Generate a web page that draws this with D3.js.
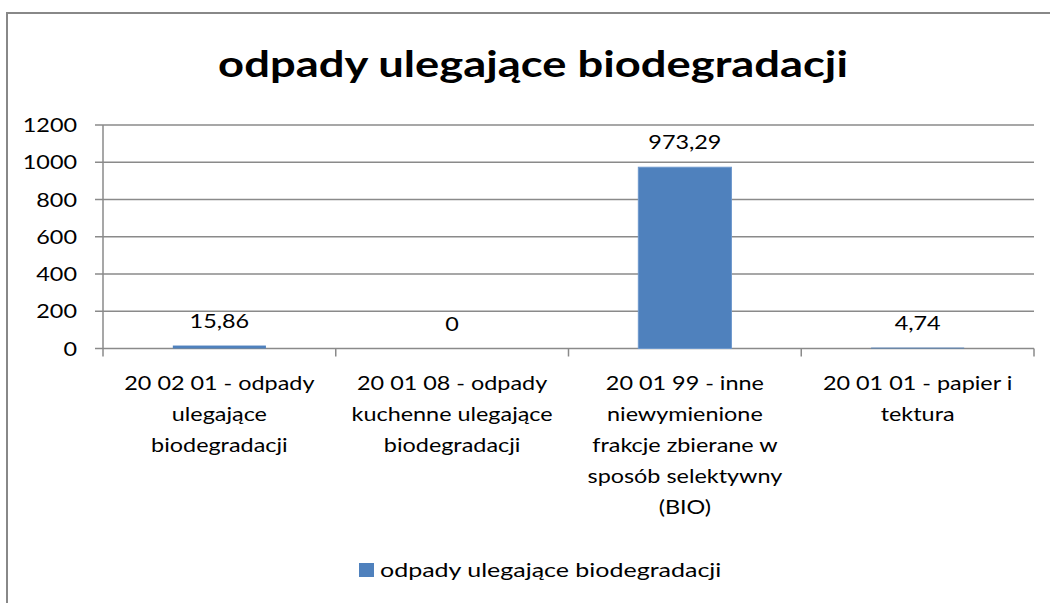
<!DOCTYPE html>
<html>
<head>
<meta charset="utf-8">
<script src="https://cdn.jsdelivr.net/npm/d3@7"></script>
<style>
  body { margin: 0; background: #fff; }
  text { font-family: Lato, 'Open Sans', sans-serif; fill: #000; }
</style>
</head>
<body>
<div id="chart"></div>
<script>
let categories = [
  '20 02 01 - odpady ulegające biodegradacji',
  '20 01 08 - odpady kuchenne ulegające biodegradacji',
  '20 01 99 - inne niewymienione frakcje zbierane w sposób selektywny (BIO)',
  '20 01 01 - papier i tektura'
]
let values = [15.86, 0, 973.29, 4.74]
let valueLabels = ['15,86', '0', '973,29', '4,74']
let yTicks = [0, 200, 400, 600, 800, 1000, 1200]
let seriesName = 'odpady ulegające biodegradacji'
let title = 'odpady ulegające biodegradacji'

let width = 1050
let height = 603
let margin = { top: 125, left: 103, right: 16, bottom: 254.5 }

// the picture is a bit wider than tall, so text is stretched sideways
let sx = 1.2

let svg = d3
  .select('#chart')
  .append('svg')
  .attr('width', width)
  .attr('height', height)

function place(sel, px, py, k) {
  return sel.attr('transform', `translate(${px},${py}) scale(${k || sx},1)`)
}

// outer chart frame
svg
  .append('rect')
  .attr('x', 7)
  .attr('y', 13)
  .attr('width', 1070)
  .attr('height', 620)
  .attr('fill', '#fff')
  .attr('stroke', '#888')
  .attr('stroke-width', 2)

place(svg.append('text'), 533, 77, 1.26)
  .attr('text-anchor', 'middle')
  .attr('font-size', 36)
  .attr('font-weight', 'bold')
  .text(title)

let x = d3
  .scaleBand()
  .domain(categories)
  .range([margin.left, width - margin.right])
  .paddingInner(0.6)
  .paddingOuter(0.3)

let xEdge = d3
  .scaleLinear()
  .domain([0, categories.length])
  .range([margin.left, width - margin.right])

let y = d3
  .scaleLinear()
  .domain([0, 1200])
  .range([height - margin.bottom, margin.top])

// gridlines
svg
  .selectAll('.grid')
  .data(yTicks)
  .enter()
  .append('line')
  .attr('class', 'grid')
  .attr('x1', margin.left - 8)
  .attr('x2', width - margin.right)
  .attr('y1', d => y(d))
  .attr('y2', d => y(d))
  .attr('stroke', '#8a8a8a')
  .attr('stroke-width', 1.5)

// y axis line
svg
  .append('line')
  .attr('x1', margin.left)
  .attr('x2', margin.left)
  .attr('y1', y(1200))
  .attr('y2', y(0))
  .attr('stroke', '#8a8a8a')
  .attr('stroke-width', 1.5)

svg
  .selectAll('.ytick')
  .data(yTicks)
  .enter()
  .append('text')
  .attr('class', 'ytick')
  .each(function(d) {
    place(d3.select(this), 77, y(d))
  })
  .attr('dy', '0.36em')
  .attr('text-anchor', 'end')
  .attr('font-size', 19.5)
  .text(d => d)

// category tick marks
svg
  .selectAll('.xtick')
  .data(d3.range(categories.length + 1))
  .enter()
  .append('line')
  .attr('class', 'xtick')
  .attr('x1', d => xEdge(d))
  .attr('x2', d => xEdge(d))
  .attr('y1', y(0))
  .attr('y2', y(0) + 8)
  .attr('stroke', '#8a8a8a')
  .attr('stroke-width', 1.5)

// bars
svg
  .selectAll('.bar')
  .data(values)
  .enter()
  .append('rect')
  .attr('class', 'bar')
  .attr('x', (d, i) => x(categories[i]))
  .attr('width', x.bandwidth())
  .attr('y', d => y(d))
  .attr('height', d => y(0) - y(d))
  .attr('fill', '#4f81bd')
  .attr('stroke', d => (d > 50 ? '#6d98cd' : 'none'))
  .attr('stroke-width', 1)

svg
  .selectAll('.vlabel')
  .data(values)
  .enter()
  .append('text')
  .attr('class', 'vlabel')
  .each(function(d, i) {
    place(d3.select(this), x(categories[i]) + x.bandwidth() / 2, y(d) - 25)
  })
  .attr('dy', '0.36em')
  .attr('text-anchor', 'middle')
  .attr('font-size', 19.5)
  .text((d, i) => valueLabels[i])

// wrapped category labels
function wrapWords(str, maxWidth, size) {
  let probe = svg.append('text').attr('font-size', size)
  let words = str.split(' ')
  let lines = []
  let line = []
  words.forEach(w => {
    let test = line.concat([w]).join(' ')
    probe.text(test)
    if (line.length && probe.node().getComputedTextLength() > maxWidth) {
      lines.push(line.join(' '))
      line = [w]
    } else {
      line.push(w)
    }
  })
  lines.push(line.join(' '))
  probe.remove()
  return lines
}

categories.forEach((c, i) => {
  let lines = wrapWords(c, 178, 19.5)
  let t = place(svg.append('text'), xEdge(i + 0.5), 390)
    .attr('text-anchor', 'middle')
    .attr('font-size', 19.5)
  lines.forEach((l, j) => {
    t.append('tspan')
      .attr('x', 0)
      .attr('y', j * 31)
      .text(l)
  })
})

// legend
let legend = svg.append('g').attr('transform', 'translate(359,563)')
legend
  .append('rect')
  .attr('width', 15)
  .attr('height', 14)
  .attr('fill', '#4f81bd')
place(legend.append('text'), 21, 7, 1.25)
  .attr('dy', '0.36em')
  .attr('font-size', 20)
  .text(seriesName)
</script>
</body>
</html>
